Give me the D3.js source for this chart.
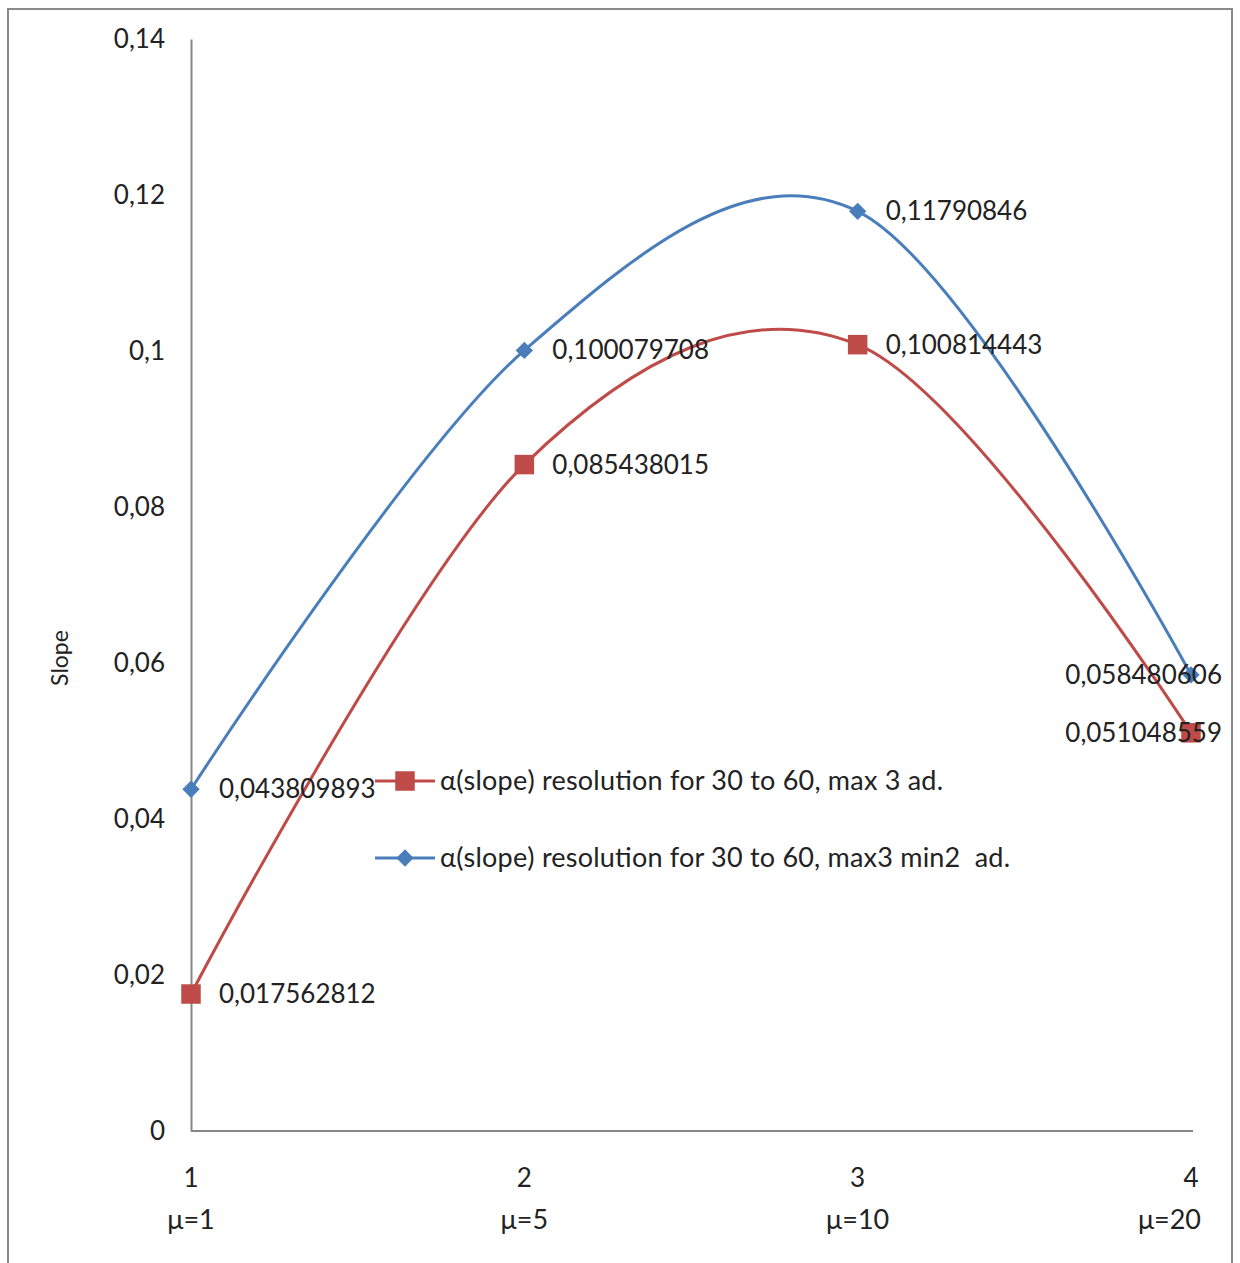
<!DOCTYPE html>
<html>
<head>
<meta charset="utf-8">
<script src="https://cdn.jsdelivr.net/npm/d3@7"></script>
<style>
  body { margin: 0; background: #fff; }
  svg text { font-family: Lato, "Open Sans", sans-serif; fill: #222; white-space: pre; }
</style>
</head>
<body>
<div id="chart"></div>
<script>
// categories and their second-row labels
var categories = ["1", "2", "3", "4"];
var subLabels = ["\u03bc=1", "\u03bc=5", "\u03bc=10", "\u03bc=20"];

// series values
var redValues = [0.017562812, 0.085438015, 0.100814443, 0.051048559];
var blueValues = [0.043809893, 0.100079708, 0.11790846, 0.058480606];

var redName = "\u03b1(slope) resolution for 30 to 60, max 3 ad.";
var blueName = "\u03b1(slope) resolution for 30 to 60, max3 min2  ad.";

var yTicks = [0, 0.02, 0.04, 0.06, 0.08, 0.1, 0.12, 0.14];

var W = 1240, H = 1263;
var red = "#BE4B48", blue = "#4A7EBB";

var svg = d3.select("#chart").append("svg")
    .attr("width", W)
    .attr("height", H);

// outer chart border
svg.append("rect")
    .attr("x", 8).attr("y", 9)
    .attr("width", 1224).attr("height", 1280)
    .attr("fill", "none")
    .attr("stroke", "#8a8a8a")
    .attr("stroke-width", 2);

// scales
var x = d3.scalePoint()
    .domain(categories)
    .range([191, 1191]);
var y = d3.scaleLinear()
    .domain([0, 0.14])
    .range([1131, 39]);

var fmt = function(v) { return String(v).replace(".", ","); };

// y axis
var yAxis = d3.axisLeft(y)
    .tickValues(yTicks)
    .tickSize(0)
    .tickPadding(26)
    .tickFormat(function(d) { return d === 0 ? "0" : fmt(+d.toFixed(2)); });

var gy = svg.append("g")
    .attr("transform", "translate(191,0)")
    .call(yAxis);
gy.select(".domain").attr("stroke", "#868686").attr("stroke-width", 2);
gy.selectAll("text").style("font-size", "26px").style("font-family", "Lato, sans-serif").attr("fill", "#222");

// x axis line
var gx = svg.append("g")
    .attr("transform", "translate(0,1131)")
    .call(d3.axisBottom(x).tickSize(0).tickFormat(""));
gx.select(".domain").attr("stroke", "#868686").attr("stroke-width", 2)
    .attr("d", "M191,0H1193");

// category labels (two rows)
svg.append("g").selectAll("text")
    .data(categories)
    .enter().append("text")
    .attr("x", function(d) { return x(d); })
    .attr("y", 1187)
    .attr("text-anchor", "middle")
    .style("font-size", "26px")
    .text(function(d) { return d; });

svg.append("g").selectAll("text")
    .data(subLabels)
    .enter().append("text")
    .attr("y", 1229)
    .attr("text-anchor", "middle")
    .style("font-size", "27px")
    .text(function(d) { return d; })
    .attr("x", function(d, i) {
        var w = this.getComputedTextLength();
        return Math.min(x(categories[i]), 1201 - w / 2);
    });

// y axis title
svg.append("text")
    .attr("transform", "translate(68,658) rotate(-90)")
    .attr("text-anchor", "middle")
    .style("font-size", "23px")
    .text("Slope");

var line = d3.line()
    .x(function(d, i) { return x(categories[i]); })
    .y(function(d) { return y(d); })
    .curve(d3.curveCardinal.tension(0));

var squareSym = d3.symbol().type(d3.symbolSquare).size(380);
var diamondSym = d3.symbol().type(d3.symbolSquare).size(150);

function drawSeries(values, color, marker) {
    svg.append("path")
        .datum(values)
        .attr("d", line)
        .attr("fill", "none")
        .attr("stroke", color)
        .attr("stroke-width", 3);

    svg.append("g").selectAll("path")
        .data(values)
        .enter().append("path")
        .attr("d", marker === "square" ? squareSym : diamondSym)
        .attr("transform", function(d, i) {
            return "translate(" + x(categories[i]) + "," + y(d) + ")" +
                (marker === "square" ? "" : " rotate(45)");
        })
        .attr("fill", color);
}

drawSeries(redValues, red, "square");
drawSeries(blueValues, blue, "diamond");

// data labels
function drawLabels(values) {
    svg.append("g").selectAll("text")
        .data(values)
        .enter().append("text")
        .attr("y", function(d) { return y(d) + 9; })
        .style("font-size", "26px")
        .text(function(d) { return fmt(d); })
        .attr("x", function(d, i) {
            var w = this.getComputedTextLength();
            return Math.min(x(categories[i]) + 28, 1222 - w);
        });
}
drawLabels(redValues);
drawLabels(blueValues);

// legend
var legend = [
    { name: redName, color: red, marker: "square", y: 781 },
    { name: blueName, color: blue, marker: "diamond", y: 858 }
];
var lg = svg.append("g").selectAll("g")
    .data(legend)
    .enter().append("g")
    .attr("transform", function(d) { return "translate(375," + d.y + ")"; });

lg.append("line")
    .attr("x1", 0).attr("x2", 60)
    .attr("stroke", function(d) { return d.color; })
    .attr("stroke-width", 3);

lg.append("path")
    .attr("d", function(d) { return d.marker === "square" ? squareSym() : diamondSym(); })
    .attr("transform", function(d) {
        return "translate(30,0)" + (d.marker === "square" ? "" : " rotate(45)");
    })
    .attr("fill", function(d) { return d.color; });

lg.append("text")
    .attr("x", 65)
    .attr("y", 9)
    .style("font-size", "27px")
    .attr("textLength", function(d) { return d.marker === "square" ? 503 : 570; })
    .attr("lengthAdjust", "spacing")
    .text(function(d) { return d.name; });
</script>
</body>
</html>
